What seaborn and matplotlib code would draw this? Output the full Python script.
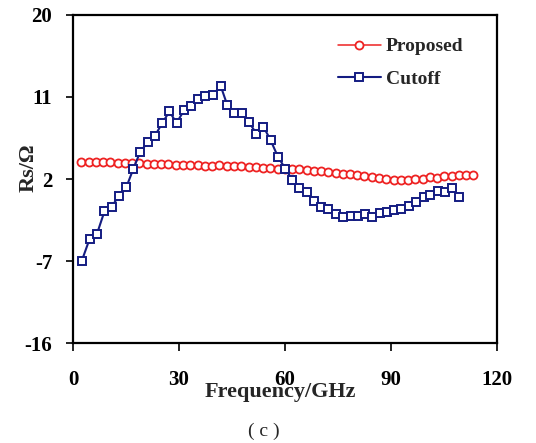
import matplotlib
matplotlib.use("Agg")
import matplotlib.pyplot as plt
import seaborn as sns
import pandas as pd

# ---- data ----
freq_proposed = [2.4, 4.5, 6.5, 8.6, 10.6, 12.7, 14.7, 16.8, 18.8, 20.9,
                 22.9, 25.0, 27.0, 29.1, 31.2, 33.2, 35.3, 37.3, 39.4, 41.4,
                 43.5, 45.5, 47.6, 49.7, 51.7, 53.8, 55.8, 57.9, 59.9, 62.0,
                 64.0, 66.1, 68.1, 70.2, 72.3, 74.3, 76.4, 78.4, 80.5, 82.5,
                 84.6, 86.6, 88.7, 90.8, 92.8, 94.9, 96.9, 99.0, 101.0, 103.1,
                 105.1, 107.2, 109.2, 111.3, 113.3]
rs_proposed = [3.90, 3.88, 3.87, 3.85, 3.90, 3.80, 3.78, 3.80, 3.70, 3.68,
               3.65, 3.62, 3.60, 3.58, 3.52, 3.50, 3.48, 3.45, 3.45, 3.50,
               3.42, 3.40, 3.38, 3.36, 3.30, 3.25, 3.20, 3.15, 3.12, 3.10,
               3.05, 3.00, 2.92, 2.85, 2.75, 2.65, 2.58, 2.50, 2.40, 2.30,
               2.20, 2.10, 2.00, 1.92, 1.88, 1.90, 1.95, 2.05, 2.25, 2.10,
               2.30, 2.35, 2.40, 2.45, 2.45]

freq_cutoff = [2.5, 4.7, 6.8, 8.9, 10.9, 13.0, 15.1, 17.1, 19.0, 21.2,
               23.2, 25.2, 27.3, 29.3, 31.4, 33.4, 35.5, 37.5, 39.6, 41.8,
               43.7, 45.7, 47.8, 49.8, 51.9, 53.9, 55.9, 58.0, 60.1, 62.1,
               64.1, 66.2, 68.3, 70.3, 72.3, 74.4, 76.5, 78.6, 80.6, 82.7,
               84.7, 86.8, 88.9, 90.9, 92.9, 95.0, 97.1, 99.2, 101.1, 103.2,
               105.3, 107.4, 109.3]
rs_cutoff = [-6.95, -4.57, -3.99, -1.55, -1.07, 0.17, 1.12, 3.13, 4.96, 6.05,
             6.74, 8.09, 9.40, 8.13, 9.51, 10.00, 10.72, 11.05, 11.23, 12.19,
             10.06, 9.26, 9.26, 8.24, 6.96, 7.73, 6.27, 4.44, 3.13, 1.89,
             1.01, 0.53, -0.45, -1.07, -1.29, -1.80, -2.13, -2.10, -2.10, -1.80,
             -2.21, -1.69, -1.58, -1.40, -1.25, -0.96, -0.52, -0.02, 0.20, 0.64,
             0.58, 1.05, -0.02]

x_ticks = [0, 30, 60, 90, 120]
y_ticks = [-16, -7, 2, 11, 20]

sns.set_style("white")
plt.rcParams['font.family'] = ['Liberation Serif', 'DejaVu Serif']
plt.rcParams['font.weight'] = 'bold'

fig = plt.figure(figsize=(5.36, 4.43), dpi=100)
ax = fig.add_axes([73/536, 1-343.3/443, 424/536, 328.6/443])

df_p = pd.DataFrame({"f": freq_proposed, "rs": rs_proposed})
df_c = pd.DataFrame({"f": freq_cutoff, "rs": rs_cutoff})

sns.lineplot(data=df_p, x="f", y="rs", ax=ax, color="#ee2222", lw=1.1,
             marker="o", markersize=5.8, markerfacecolor="white",
             markeredgecolor="#ee2222", markeredgewidth=1.3, label="Proposed")
sns.lineplot(data=df_c, x="f", y="rs", ax=ax, color="#141c82", lw=1.5,
             marker="s", markersize=5.2, markerfacecolor="white",
             markeredgecolor="#141c82", markeredgewidth=1.4, label="Cutoff")

ax.set_xlim(0, 120)
ax.set_ylim(-16, 20)
ax.set_xticks(x_ticks)
ax.set_yticks(y_ticks)
ax.set_xticklabels([str(t) for t in x_ticks], fontsize=15, fontweight='bold')
ax.set_yticklabels([str(t) for t in y_ticks], fontsize=15, fontweight='bold')
ax.tick_params(axis='x', direction='out', length=6, width=1.2, pad=13, colors='black')
ax.tick_params(axis='y', direction='out', length=5, width=1.2, pad=10, colors='black')
ax.tick_params(bottom=True, left=True, top=False, right=False)
for s in ax.spines.values():
    s.set_color('black')
    s.set_linewidth(1.6)

ax.set_xlabel("Frequency/GHz", fontsize=16, fontweight='bold')
ax.xaxis.set_label_coords(0.488, -0.118)
ax.set_ylabel("Rs/Ω", fontsize=16, fontweight='bold')
ax.yaxis.set_label_coords(-0.08, 0.533)

leg = ax.legend(loc='upper left', bbox_to_anchor=(0.625, 0.93), frameon=False,
                borderaxespad=0, borderpad=0, handlelength=2.2, handletextpad=0.25,
                labelspacing=0.75, prop={'family': 'Liberation Serif', 'weight': 'bold', 'size': 14})

fig.text(264/536, 1-431/443, "( c )", ha='center', va='center', fontsize=14,
         fontweight='normal', family='Liberation Serif')

fig.savefig("out.png", dpi=100)
